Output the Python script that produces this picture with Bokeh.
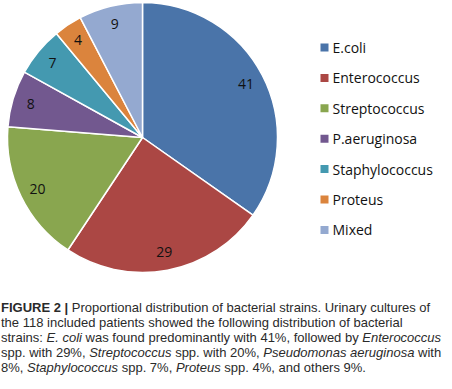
import math
from bokeh.plotting import figure
from bokeh.models import Range1d, Div, ColumnDataSource
from bokeh.layouts import column
from bokeh.core.properties import value
from bokeh.embed import file_html
from bokeh.resources import INLINE

categories = ["E.coli", "Enterococcus", "Streptococcus", "P.aeruginosa",
              "Staphylococcus", "Proteus", "Mixed"]
counts = [41, 29, 20, 8, 7, 4, 9]
colors = ["#4a74a9", "#ab4744", "#89a64f", "#72588f", "#4499b0", "#db843d", "#94a9d0"]

W, H = 452, 300
total = sum(counts)
cx, cy, R = 142, H - 137, 135

starts, ends, mids = [], [], []
cum = 0
for c in counts:
    a0 = math.pi / 2 - 2 * math.pi * cum / total
    cum += c
    a1 = math.pi / 2 - 2 * math.pi * cum / total
    starts.append(a0)
    ends.append(a1)
    mids.append((a0 + a1) / 2)

lr = R * 0.865
src = ColumnDataSource(dict(
    cat=categories, val=counts, col=colors, start=starts, end=ends,
    lx=[cx + lr * math.cos(m) for m in mids],
    ly=[cy + lr * math.sin(m) for m in mids],
    txt=[str(v) for v in counts],
))

p = figure(width=W, height=H, output_backend="svg", toolbar_location=None,
           x_range=Range1d(0, W), y_range=Range1d(0, H), min_border=0)
p.axis.visible = False
p.grid.visible = False
p.outline_line_color = None
p.background_fill_color = "white"

p.wedge(x=cx, y=cy, radius=R, start_angle="start", end_angle="end",
        direction="clock", fill_color="col", line_color="white", line_width=1.5,
        source=src)
p.text(x="lx", y="ly", text="txt", source=src, text_align="center",
       text_baseline="middle", text_font=value("Open Sans"),
       text_font_size="14px", text_color="#111111")

# legend
leg_y0 = H - 47
leg_dy = 30.4
ly = [leg_y0 - i * leg_dy for i in range(len(categories))]
lsrc = ColumnDataSource(dict(y=ly, cat=categories, col=colors))
p.scatter(x=324, y="y", marker="square", size=8, fill_color="col",
          line_color=None, source=lsrc)
p.text(x=332, y="y", text="cat", source=lsrc, text_align="left",
       text_baseline="middle", text_font=value("Open Sans"),
       text_font_size="14px", text_color="#111111")

caption = Div(
    text=("<b>FIGURE 2 |</b> Proportional distribution of bacterial strains. Urinary cultures of<br>"
          "the 118 included patients showed the following distribution of bacterial<br>"
          "strains: <i>E. coli</i> was found predominantly with 41%, followed by <i>Enterococcus</i><br>"
          "spp. with 29%, <i>Streptococcus</i> spp. with 20%, <i>Pseudomonas aeruginosa</i> with<br>"
          "8%, <i>Staphylococcus</i> spp. 7%, <i>Proteus</i> spp. 4%, and others 9%."),
    width=451,
    styles={"font-family": "Liberation Sans", "font-size": "13px",
            "line-height": "15px", "color": "#2a2a2a", "white-space": "nowrap"},
    margin=(0, 0, 0, 1),
)

layout = column(p, caption, spacing=0)
open("out.html", "w").write(file_html(layout, INLINE))
